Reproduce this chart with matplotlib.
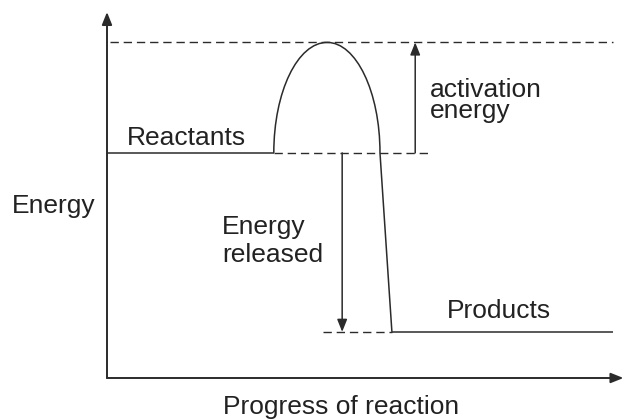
import matplotlib.pyplot as plt
from matplotlib.path import Path
from matplotlib.patches import PathPatch

plt.rcParams['font.family'] = ['Liberation Sans', 'DejaVu Sans']

# energy levels (arbitrary units) and progress positions
reactant_e = 6.15
peak_e = 9.17
product_e = 1.26

# hump: bezier vertices (progress, energy)
hump_x = [3.22, 3.22, 3.68, 4.25, 4.81, 5.27, 5.27, 5.50]
hump_e = [6.15, 7.82, 9.17, 9.17, 9.17, 7.82, 6.15, 1.26]
hump_codes = [Path.MOVETO, Path.CURVE4, Path.CURVE4, Path.CURVE4,
              Path.CURVE4, Path.CURVE4, Path.CURVE4, Path.LINETO]

reactant_dash_end = 6.27
top_dash = (0.06, 9.77)
product_dash_start = 4.17
product_end = 9.77
activation_x = 5.95
released_x = 4.54

line_col = '#2b2b2b'
text_col = '#222222'

fig = plt.figure(figsize=(6.25, 4.2), dpi=100, facecolor='w')
ax = fig.add_axes([0.1712, 0.1, 0.8288, 0.8714])
ax.set_xlim(0, 10)
ax.set_ylim(0, 10)
ax.axis('off')

# axes with arrow heads
arr = dict(arrowstyle='-|>,head_length=0.75,head_width=0.3', color=line_col,
           lw=1.4, shrinkA=0, shrinkB=0, mutation_scale=10)
ax.annotate('', xy=(0, 1), xytext=(0, 0), xycoords='axes fraction', arrowprops=arr)
ax.annotate('', xy=(0.997, 0), xytext=(0, 0), xycoords='axes fraction', arrowprops=arr)

dash = dict(color=line_col, lw=1.0, dashes=(6, 3.5))
solid = dict(color=line_col, lw=1.1, solid_capstyle='butt')

# reactants / products levels
ax.plot([0, hump_x[0]], [reactant_e, reactant_e], **solid)
ax.plot([hump_x[0], reactant_dash_end], [reactant_e, reactant_e], **dash)
ax.plot(list(top_dash), [peak_e, peak_e], **dash)
ax.plot([product_dash_start, hump_x[-1]], [product_e, product_e], **dash)
ax.plot([hump_x[-1], product_end], [product_e, product_e], **solid)

# reaction curve
path = Path(list(zip(hump_x, hump_e)), hump_codes)
ax.add_patch(PathPatch(path, fill=False, edgecolor=line_col, lw=1.1))

# energy arrows
arr2 = dict(arrowstyle='-|>,head_length=0.75,head_width=0.3', color=line_col,
            lw=1.1, shrinkA=0, shrinkB=0, mutation_scale=10)
ax.annotate('', xy=(activation_x, peak_e), xytext=(activation_x, reactant_e), arrowprops=arr2)
ax.annotate('', xy=(released_x, product_e), xytext=(released_x, reactant_e), arrowprops=arr2)

fs = 19
ax.text(0.39, 6.37, 'Reactants', fontsize=fs, color=text_col, va='baseline')
ax.text(6.56, 1.64, 'Products', fontsize=fs, color=text_col, va='baseline')
# multi-line texts: baseline anchors the last line
ax.text(6.24, 7.10, 'activation\nenergy', fontsize=fs, color=text_col,
        va='baseline', linespacing=0.85)
ax.text(2.22, 3.17, 'Energy\nreleased', fontsize=fs, color=text_col,
        va='baseline', linespacing=1.2)
ax.text(-1.83, 4.51, 'Energy', fontsize=fs, color=text_col, va='baseline', clip_on=False)
ax.text(4.52, -0.98, 'Progress of reaction', fontsize=fs, color=text_col,
        va='baseline', ha='center', clip_on=False)

fig.savefig('out.png', dpi=100)
